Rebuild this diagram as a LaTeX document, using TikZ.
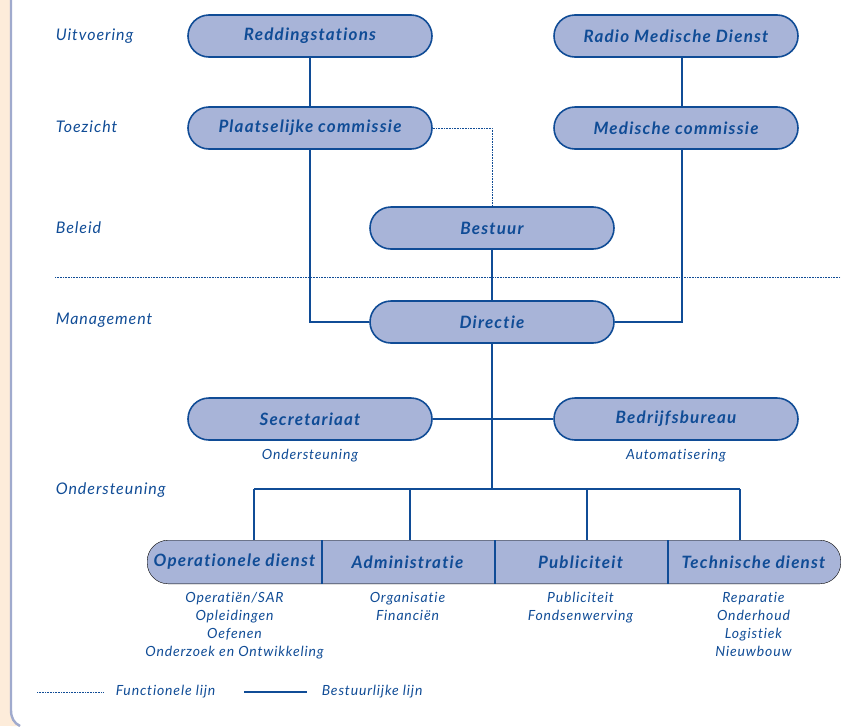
\documentclass[tikz,border=0pt]{standalone}
\usepackage{fontspec}
\setmainfont{Lato}[Ligatures=NoCommon]
\usetikzlibrary{positioning,backgrounds}

\definecolor{ink}{RGB}{16,76,150}
\definecolor{boxfill}{RGB}{168,180,216}
\definecolor{peach}{RGB}{253,236,218}
\definecolor{framecol}{RGB}{160,170,205}

\begin{document}
\begin{tikzpicture}[x=1pt,y=-1pt,color=ink,line width=1.6pt,
                    node distance=8pt]
  \tikzstyle{unit}=[draw=ink,fill=boxfill,rounded corners=21pt,
                    minimum width=244pt,minimum height=42pt,inner sep=0pt,
                    font=\fontsize{17}{18}\selectfont\bfseries\itshape\addfontfeatures{LetterSpace=7}]
  \tikzstyle{cell}=[minimum width=173pt,minimum height=42pt,inner sep=0pt,
                    font=\fontsize{17}{18}\selectfont\bfseries\itshape\addfontfeatures{LetterSpace=7}]
  \tikzstyle{level}=[anchor=west,inner sep=0pt,
                     font=\fontsize{16}{18}\selectfont\itshape\addfontfeatures{LetterSpace=6}]
  \tikzstyle{sub}=[inner sep=0pt,align=center,
                   font=\fontsize{14}{18}\selectfont\itshape\addfontfeatures{LetterSpace=6}]
  \tikzstyle{functional}=[line width=0.9pt,dash pattern=on 1pt off 0.6pt]

  \useasboundingbox (0,0) rectangle (841,726);

  % page edge
  \fill[peach] (0,0) rectangle (11,726);
  \fill[peach] (11,710) .. controls (11,718) and (14,723) .. (20,726) -- (11,726) -- cycle;
  \draw[framecol,line width=2.4pt] (11,0) -- (11,710) .. controls (11,718) and (14,723) .. (20,726);

  % levels
  \node[level] (lu) at (55,36)  {Uitvoering};
  \node[level] (lt) at (55,127) {Toezicht};
  \node[level] (lb) at (55,228) {Beleid};
  \node[level] (lm) at (55,320) {Management};
  \node[level] (lo) at (55,490) {Ondersteuning};

  \coordinate (sepl) at (55,277);
  \coordinate (sepr) at (841,277);
  \draw[functional] (sepl) -- (sepr);

  % units
  \node[unit] (red) at (310,36)  {Reddingstations};
  \node[unit] (rmd) at (676,36)  {Radio Medische Dienst};
  \node[unit] (plc) at (310,128) {Plaatselijke commissie};
  \node[unit] (mec) at (676,128) {Medische commissie};
  \node[unit] (bes) at (492,228) {Bestuur};
  \node[unit] (dir) at (492,322) {Directie};
  \node[unit] (sec) at (310,419) {Secretariaat};
  \node[unit] (bdb) at (676,419) {Bedrijfsbureau};

  \node[sub,below=of sec] {Ondersteuning};
  \node[sub,below=of bdb] {Automatisering};

  % services
  \node[cell] (ops) at (234.5,562) {Operationele dienst};
  \node[cell] (adm) at (407.5,562) {Administratie};
  \node[cell] (pub) at (580.5,562) {Publiciteit};
  \node[cell] (tec) at (753.5,562) {Technische dienst};
  \begin{scope}[on background layer]
    \draw[fill=boxfill,rounded corners=21pt] (ops.south west) rectangle (tec.north east);
  \end{scope}
  \draw (ops.north east) -- (ops.south east);
  \draw (adm.north east) -- (adm.south east);
  \draw (pub.north east) -- (pub.south east);

  \node[sub,below=of ops] {Operatiën/SAR\\Opleidingen\\Oefenen\\Onderzoek en Ontwikkeling};
  \node[sub,below=of adm] {Organisatie\\Financiën};
  \node[sub,below=of pub] {Publiciteit\\Fondsenwerving};
  \node[sub,below=of tec] {Reparatie\\Onderhoud\\Logistiek\\Nieuwbouw};

  % lines
  \draw (red) -- (plc);
  \draw ([xshift=6pt]rmd.south) -- ([xshift=6pt]mec.north);
  \draw (plc) |- (dir);
  \draw ([xshift=6pt]mec.south) |- (dir.east);
  \draw[functional] (plc.east) -| (bes.north);
  \draw (bes) -- (dir);
  \draw (sec) -- (bdb);

  \coordinate (bus) at (492,489);
  \coordinate (d1) at (254,489);
  \coordinate (d2) at (410,489);
  \coordinate (d3) at (587,489);
  \coordinate (d4) at (740,489);
  \draw (dir) -- (bus);
  \draw (d1) -- (d4);
  \draw (d1) -- (d1 |- ops.north);
  \draw (d2) -- (d2 |- adm.north);
  \draw (d3) -- (d3 |- pub.north);
  \draw (d4) -- (d4 |- tec.north);

  % legend
  \coordinate (f1) at (37,692);
  \coordinate (f2) at (103,692);
  \coordinate (b1) at (244,692);
  \coordinate (b2) at (307,692);
  \draw[functional] (f1) -- (f2);
  \node[sub,right=12pt of f2] {Functionele lijn};
  \draw (b1) -- (b2);
  \node[sub,right=14pt of b2] {Bestuurlijke lijn};
\end{tikzpicture}
\end{document}
